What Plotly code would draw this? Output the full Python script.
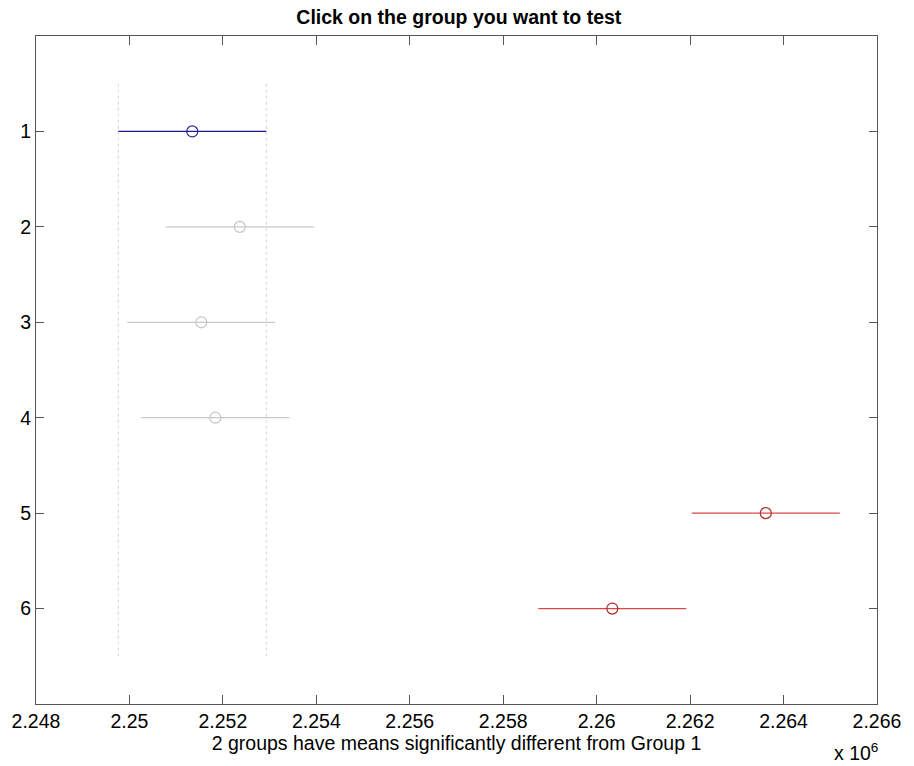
import plotly.graph_objects as go

# Group means and comparison interval half-width (raw units)
groups = [1, 2, 3, 4, 5, 6]
means = [2251345, 2252362, 2251538, 2251838, 2263620, 2260335]
half_width = [1584, 1584, 1584, 1584, 1584, 1584]
status = ["selected", "same", "same", "same", "different", "different"]

tick_vals = [2248000, 2250000, 2252000, 2254000, 2256000, 2258000,
             2260000, 2262000, 2264000, 2266000]
tick_text = ["2.248", "2.25", "2.252", "2.254", "2.256", "2.258",
             "2.26", "2.262", "2.264", "2.266"]

line_colors = {"selected": "#1a1a8c", "same": "#c8c8c8", "different": "#d84848"}
marker_colors = {"selected": "#2a2a90", "same": "#c4c4c4", "different": "#b02828"}

fig = go.Figure()

# Reference bounds of the selected group's interval
sel = status.index("selected")
lo = means[sel] - half_width[sel]
hi = means[sel] + half_width[sel]
for xv in (lo, hi):
    fig.add_trace(go.Scatter(
        x=[xv, xv], y=[0.5, 6.5], mode="lines",
        line=dict(color="#d4d4d4", width=1, dash="dot"),
        hoverinfo="skip", showlegend=False))

# Interval lines and mean markers
for g, m, h, s in zip(groups, means, half_width, status):
    fig.add_trace(go.Scatter(
        x=[m - h, m + h], y=[g, g], mode="lines",
        line=dict(color=line_colors[s], width=1.2),
        showlegend=False))
    fig.add_trace(go.Scatter(
        x=[m], y=[g], mode="markers",
        marker=dict(symbol="circle-open", size=11,
                    color=marker_colors[s], line=dict(width=1.2)),
        showlegend=False))

FONT = "Liberation Sans, Arial, sans-serif"
axis_font = dict(family=FONT, size=19.5, color="#000000")

fig.update_layout(
    width=914, height=766,
    margin=dict(l=36, r=37, t=36, b=62),
    paper_bgcolor="white", plot_bgcolor="white",
    title=dict(text="<b>Click on the group you want to test</b>",
               x=0.502, xanchor="center", y=0.978, yanchor="middle",
               font=dict(family=FONT, size=19.5, color="#000000")),
    xaxis=dict(range=[2248000, 2266000], tickvals=tick_vals, ticktext=tick_text,
               showgrid=False, zeroline=False, showline=True, linecolor="#555555",
               linewidth=1, mirror="ticks", ticks="inside", ticklen=9,
               tickcolor="#555555", tickfont=axis_font,
               title=dict(text="2 groups have means significantly different from Group 1",
                          font=axis_font, standoff=2)),
    yaxis=dict(range=[7, 0], tickvals=groups, ticktext=[str(g) for g in groups],
               showgrid=False, zeroline=False, showline=True, linecolor="#555555",
               linewidth=1, mirror="ticks", ticks="inside", ticklen=8,
               tickcolor="#555555", tickfont=axis_font),
    annotations=[dict(text="x 10<sup>6</sup>", xref="paper", yref="paper",
                      x=0.975, y=-0.072, xanchor="center", yanchor="middle",
                      showarrow=False, font=axis_font)],
)

fig.write_html("out.html")
